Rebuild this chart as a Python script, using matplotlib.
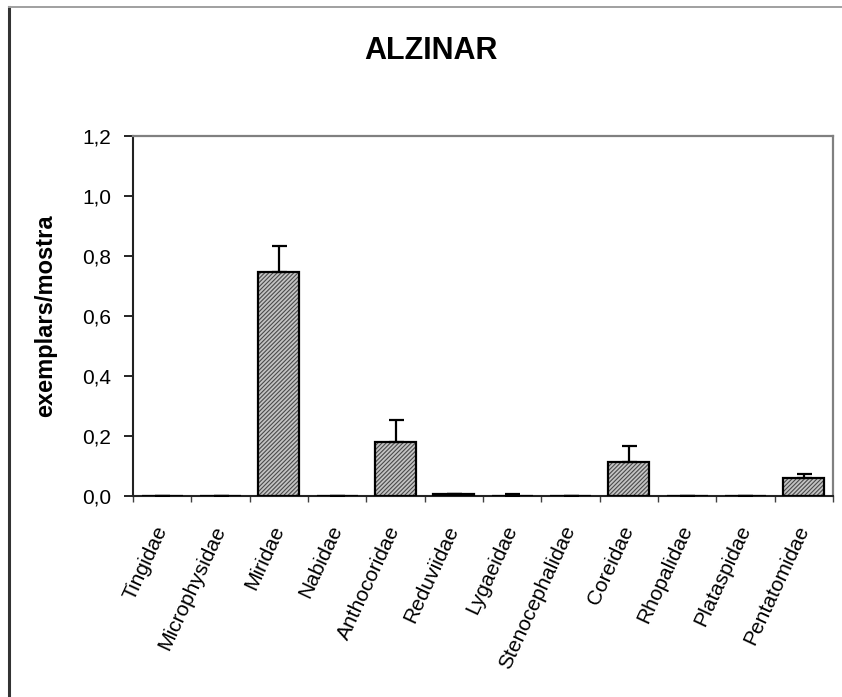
import matplotlib
matplotlib.use('Agg')
import matplotlib.pyplot as plt
from matplotlib.lines import Line2D
from matplotlib.ticker import FuncFormatter, FixedLocator

plt.rcParams['font.family'] = ['Liberation Sans', 'DejaVu Sans']
plt.rcParams['hatch.linewidth'] = 0.8

# data
families = ['Tingidae', 'Microphysidae', 'Miridae', 'Nabidae', 'Anthocoridae',
            'Reduviidae', 'Lygaeidae', 'Stenocephalidae', 'Coreidae',
            'Rhopalidae', 'Plataspidae', 'Pentatomidae']
means = [0.0, 0.0, 0.747, 0.0, 0.181, 0.006, 0.0, 0.0, 0.114, 0.0, 0.0, 0.059]
errors = [0.0, 0.0, 0.087, 0.0, 0.072, 0.0, 0.007, 0.0, 0.054, 0.0, 0.0, 0.015]

W, H = 842, 697
fig = plt.figure(figsize=(W / 100, H / 100), dpi=100)
ax = fig.add_axes([133 / W, 1 - 496 / H, 700 / W, 360 / H])

x = list(range(len(families)))

# hatched fill first, then outlined bars on top
ax.bar(x, means, width=0.7, color='#c4c4c4', edgecolor='#4a4a4a',
       hatch='////////', linewidth=0, zorder=2)
ax.bar(x, means, width=0.7, fill=False, edgecolor='black', linewidth=1.6, zorder=3)

# only the upper half of the error bar is drawn
lower = [0] * len(errors)
ax.errorbar(x, means, yerr=[lower, errors], fmt='none', ecolor='black',
            elinewidth=1.6, capsize=5.4, capthick=1.6, zorder=4)

ax.set_xlim(-0.5, len(families) - 0.5)
ax.set_ylim(0, 1.2)
ax.set_yticks([0, 0.2, 0.4, 0.6, 0.8, 1.0, 1.2])
ax.yaxis.set_major_formatter(FuncFormatter(lambda v, p: ('%.1f' % v).replace('.', ',')))
ax.tick_params(axis='y', direction='out', length=6.5, width=1.2, pad=9,
               labelsize=15, colors='black')

ax.set_xticks(x)
ax.set_xticklabels(families, rotation=65, ha='right', va='center',
                   rotation_mode='anchor', fontsize=15)
ax.tick_params(axis='x', which='major', length=0, pad=22)
ax.xaxis.set_minor_locator(FixedLocator([i - 0.5 for i in range(len(families) + 1)]))
ax.tick_params(axis='x', which='minor', direction='out', length=4.5, width=1.0,
               color='#404040')

for side in ['left', 'bottom']:
    ax.spines[side].set_color('#222222')
    ax.spines[side].set_linewidth(1.5)
for side in ['top', 'right']:
    ax.spines[side].set_color('#808080')
    ax.spines[side].set_linewidth(1.6)

ax.set_ylabel('exemplars/mostra', fontsize=17, fontweight='bold')
ax.yaxis.set_label_coords(-(133 - 57) / 700, 0.5)

fig.text(431 / W, 1 - 51 / H, 'ALZINAR', fontsize=22, fontweight='bold',
         ha='center', va='center')

# outer chart frame (only left and top edges fall inside the image)
fig.add_artist(Line2D([9 / W, 9 / W], [0, 1 - 7 / H], transform=fig.transFigure,
                      color='#333333', linewidth=2.2))
fig.add_artist(Line2D([9 / W, 1], [1 - 7 / H, 1 - 7 / H], transform=fig.transFigure,
                      color='#a0a0a0', linewidth=1.4))

fig.savefig('out.png', dpi=100)
